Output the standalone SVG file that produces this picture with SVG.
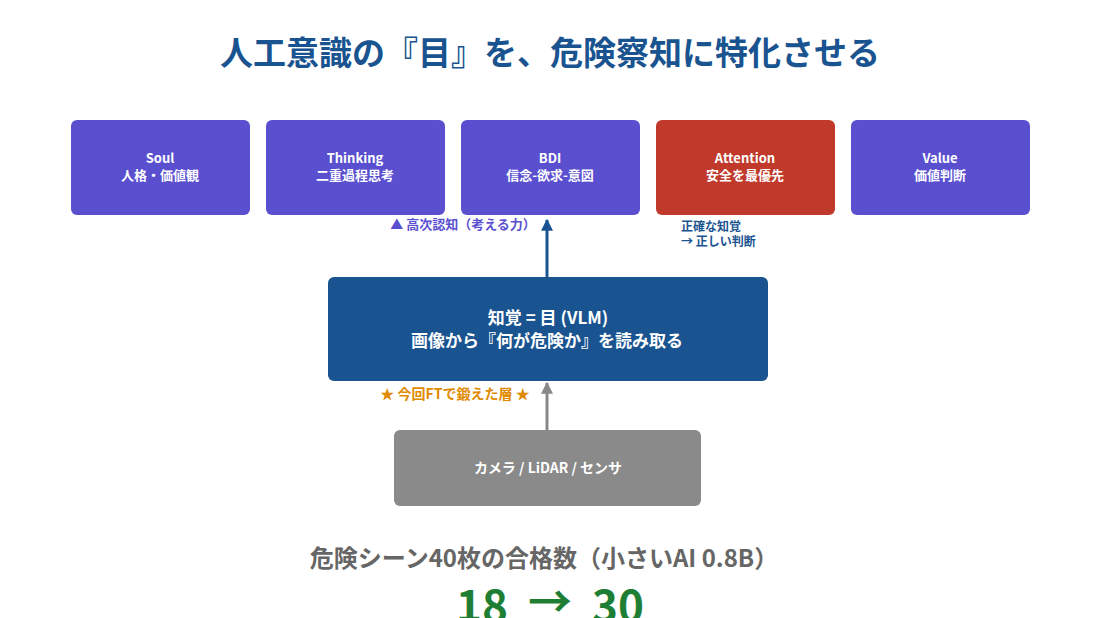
<svg xmlns="http://www.w3.org/2000/svg" width="1100" height="618" viewBox="0 0 1100 618">
<style>
text{font-family:"Noto Sans CJK JP","Noto Sans",sans-serif;font-weight:bold;text-anchor:middle}
.top{fill:#5a4fcf}
.nt{fill:#fff;font-size:13px}
.big{font-size:44px;fill:#1e7e34}
</style>
<defs>
<marker id="ab" viewBox="0 0 10 10" refX="9" refY="5" markerWidth="4" markerHeight="4" orient="auto"><path d="M0,0L10,5L0,10z" fill="#1a5490"/></marker>
<marker id="ag" viewBox="0 0 10 10" refX="9" refY="5" markerWidth="4" markerHeight="4" orient="auto"><path d="M0,0L10,5L0,10z" fill="#888"/></marker>
</defs>
<rect width="1100" height="618" fill="#fff"/>
<text x="550" y="65" font-size="33" fill="#1a5490">人工意識の『目』を、危険察知に特化させる</text>
<g id="soul"><rect class="top" x="71" y="120" width="179" height="95" rx="6"/><text class="nt" x="160" y="163">Soul</text><text class="nt" x="160" y="180">人格・価値観</text></g>
<g id="thinking"><rect class="top" x="266" y="120" width="179" height="95" rx="6"/><text class="nt" x="355" y="163">Thinking</text><text class="nt" x="355" y="180">二重過程思考</text></g>
<g id="bdi"><rect class="top" x="461" y="120" width="179" height="95" rx="6"/><text class="nt" x="550" y="163">BDI</text><text class="nt" x="550" y="180" font-weight="normal">信念-欲求-意図</text></g>
<g id="attention"><rect fill="#c0392b" x="656" y="120" width="179" height="95" rx="6"/><text class="nt" x="745" y="163">Attention</text><text class="nt" x="745" y="180">安全を最優先</text></g>
<g id="value"><rect class="top" x="851" y="120" width="179" height="95" rx="6"/><text class="nt" x="940" y="163">Value</text><text class="nt" x="940" y="180">価値判断</text></g>
<text x="463" y="229" font-size="13" fill="#5a4fcf">▲ 高次認知（考える力）</text>
<text x="681" y="231" font-size="12" fill="#1a5490" font-weight="normal" style="text-anchor:start">正確な知覚</text>
<text x="681" y="246" font-size="12" fill="#1a5490" font-weight="normal" style="text-anchor:start">→ 正しい判断</text>
<g id="vlm"><rect fill="#1a5490" x="328" y="277" width="440" height="104" rx="6"/><text x="548" y="324" font-size="17" fill="#fff">知覚 = 目 (VLM)</text><text x="547" y="347" font-size="17" fill="#fff">画像から『何が危険か』を読み取る</text></g>
<text x="455" y="399" font-size="14" fill="#e08a00">★ 今回FTで鍛えた層 ★</text>
<g id="sensor"><rect fill="#8a8a8a" x="394" y="430" width="307" height="76" rx="6"/><text x="548" y="473" font-size="14" fill="#fff">カメラ / LiDAR / センサ</text></g>
<g id="connectors">
<line x1="547" y1="277" x2="547" y2="220" stroke="#1a5490" stroke-width="3" marker-end="url(#ab)"/>
<line x1="547" y1="430" x2="547" y2="383" stroke="#888" stroke-width="3" marker-end="url(#ag)"/>
</g>
<text x="544" y="567" font-size="24" fill="#666">危険シーン40枚の合格数（小さいAI 0.8B）</text>
<text class="big" x="482" y="622">18</text>
<text class="big" x="550" y="618">→</text>
<text class="big" x="618" y="622">30</text>
</svg>
